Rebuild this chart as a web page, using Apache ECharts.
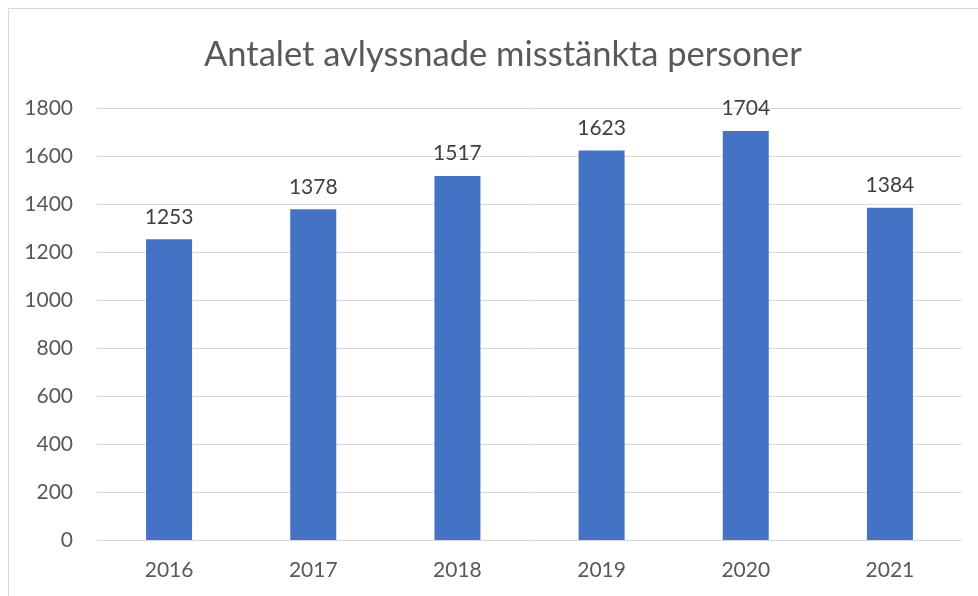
<!DOCTYPE html>
<html><head><meta charset="utf-8">
<script src="https://cdn.jsdelivr.net/npm/echarts@6/dist/echarts.min.js"></script>
<style>html,body{margin:0;padding:0;background:#fff}#c{width:978px;height:596px}</style>
</head><body><div id="c"></div>
<script>
const categories = ['2016','2017','2018','2019','2020','2021'];
const values = [1253,1378,1517,1623,1704,1384];
const yTicks = [0,200,400,600,800,1000,1200,1400,1600,1800];
const chart = echarts.init(document.getElementById('c'));
chart.setOption({
  animation:false,
  backgroundColor:'#fff',
  graphic:[{type:'rect',shape:{x:8.5,y:8.5,width:1000,height:1000},style:{fill:'none',stroke:'#d9d9d9',lineWidth:1},silent:true}],
  title:{text:'Antalet avlyssnade misstänkta personer',left:199,top:32,
    textStyle:{fontFamily:'Lato',fontSize:34.5,fontWeight:'normal',color:'#595959'}},
  grid:{left:97,right:16,top:108,bottom:56,containLabel:false},
  xAxis:{type:'category',data:categories,
    axisLine:{lineStyle:{color:'#d9d9d9',width:1}},axisTick:{show:false},
    axisLabel:{fontFamily:'Lato',fontSize:21,color:'#595959',margin:20}},
  yAxis:{type:'value',min:yTicks[0],max:yTicks[yTicks.length-1],interval:200,
    axisLine:{show:false},axisTick:{show:false},
    splitLine:{lineStyle:{color:'#d9d9d9',width:1}},
    axisLabel:{fontFamily:'Lato',fontSize:21,color:'#595959',margin:24,formatter:v=>String(v)}},
  series:[{type:'bar',data:values,barWidth:46,
    itemStyle:{color:'#4472C4'},
    label:{show:true,position:'top',distance:12,fontFamily:'Lato',fontSize:21,color:'#404040'}}]
});
</script></body></html>
